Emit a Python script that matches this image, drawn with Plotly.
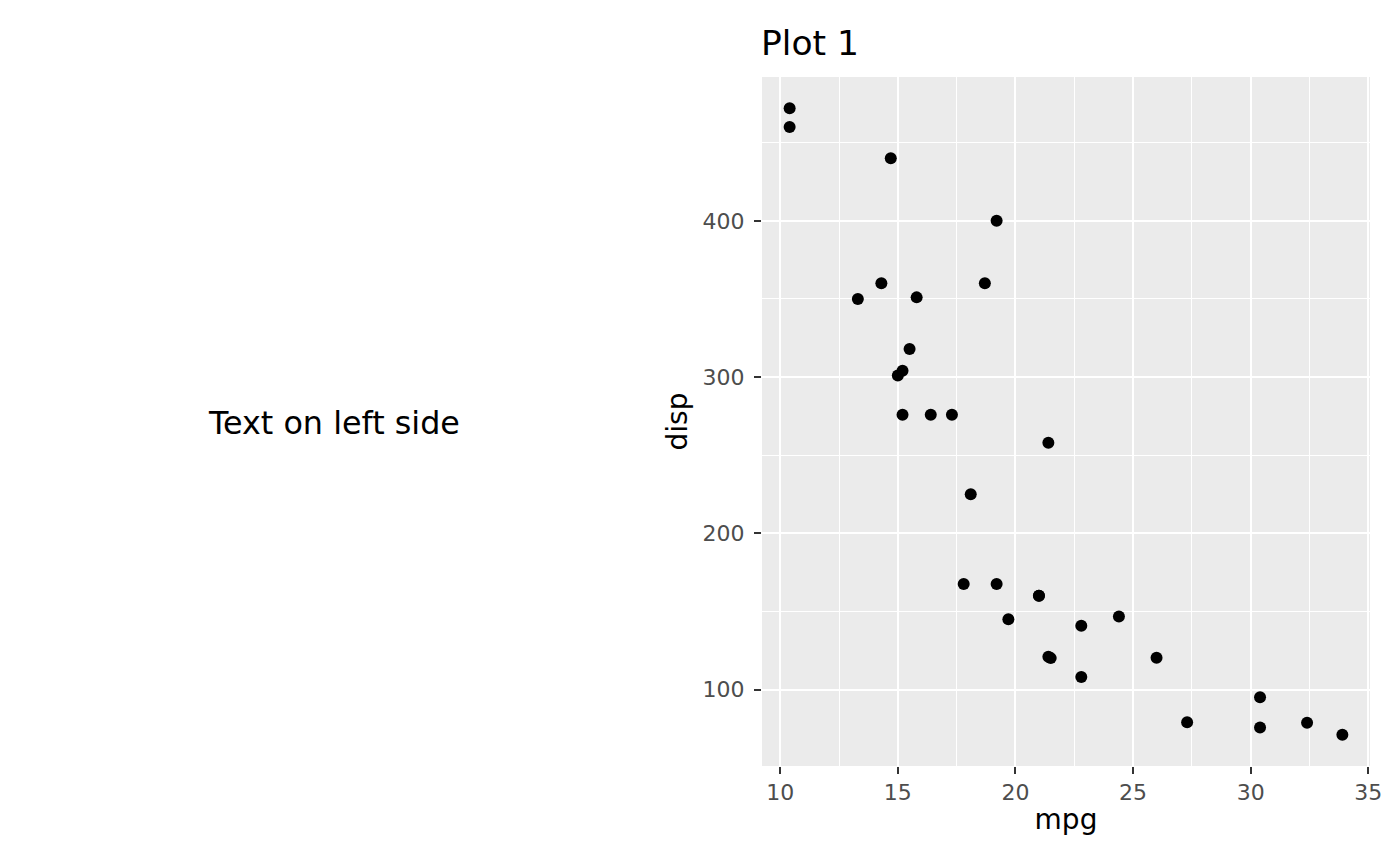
import plotly.graph_objects as go

# mtcars: mpg vs disp
mpg = [21.0, 21.0, 22.8, 21.4, 18.7, 18.1, 14.3, 24.4, 22.8, 19.2, 17.8, 16.4, 17.3, 15.2, 10.4, 10.4,
       14.7, 32.4, 30.4, 33.9, 21.5, 15.5, 15.2, 13.3, 19.2, 27.3, 26.0, 30.4, 15.8, 19.7, 15.0, 21.4]
disp = [160, 160, 108, 258, 360, 225, 360, 146.7, 140.8, 167.6, 167.6, 275.8, 275.8, 275.8, 472, 460,
        440, 78.7, 75.7, 71.1, 120.1, 318, 304, 350, 400, 79, 120.3, 95.1, 351, 145, 301, 121]
x_ticks = [10, 15, 20, 25, 30, 35]
y_ticks = [100, 200, 300, 400]

W, H = 1400, 865
font = 'DejaVu Sans'
tick_font = {'size': 22, 'color': '#4D4D4D', 'family': font}

# ggplot-style 5% expansion
xr = max(mpg) - min(mpg)
yr = max(disp) - min(disp)
x_range = [min(mpg) - 0.05 * xr, max(mpg) + 0.05 * xr]
y_range = [min(disp) - 0.05 * yr, max(disp) + 0.05 * yr]

fig = go.Figure()
fig.add_trace(go.Scatter(
    x=mpg, y=disp, mode='markers',
    marker={'color': 'black', 'size': 12},
    showlegend=False
))

x0, x1 = 762 / W, 1370 / W
y0, y1 = 1 - 766 / H, 1 - 77 / H

fig.update_layout(
    width=W, height=H,
    paper_bgcolor='white', plot_bgcolor='#EBEBEB',
    margin={'l': 0, 'r': 0, 't': 0, 'b': 0},
    font={'family': font, 'color': 'black'},
    title={'text': 'Plot 1', 'x': 761 / W, 'xanchor': 'left', 'xref': 'paper',
           'y': 1 - 43 / H, 'yanchor': 'middle', 'yref': 'container',
           'font': {'size': 34.5, 'color': 'black', 'family': font}},
    annotations=[{
        'text': 'Text on left side', 'x': 334 / W, 'y': 1 - 423 / H,
        'xref': 'paper', 'yref': 'paper', 'showarrow': False,
        'xanchor': 'center', 'yanchor': 'middle',
        'font': {'size': 31.8, 'color': 'black', 'family': font},
    }],
)

# grey panel, white grid, dark grey ticks (ggplot2 look)
fig.update_xaxes(
    domain=[x0, x1], range=x_range, tickvals=x_ticks,
    showgrid=True, gridcolor='white', gridwidth=2,
    zeroline=False, showline=False, automargin=False,
    ticks='outside', ticklen=7, tickwidth=2, tickcolor='#333333',
    tickfont=tick_font, ticklabelstandoff=0,
    minor={'showgrid': True, 'gridcolor': 'white', 'gridwidth': 1, 'ticks': '', 'dtick': 2.5, 'tick0': 7.5},
    title={'text': 'mpg', 'font': {'size': 28, 'color': 'black', 'family': font}, 'standoff': 4},
)
fig.update_yaxes(
    domain=[y0, y1], range=y_range, tickvals=y_ticks,
    showgrid=True, gridcolor='white', gridwidth=2,
    zeroline=False, showline=False, automargin=False,
    ticks='outside', ticklen=7, tickwidth=2, tickcolor='#333333',
    tickfont=tick_font, ticklabelstandoff=5,
    minor={'showgrid': True, 'gridcolor': 'white', 'gridwidth': 1, 'ticks': '', 'dtick': 50, 'tick0': 50},
    title={'text': 'disp', 'font': {'size': 28, 'color': 'black', 'family': font}, 'standoff': 6},
)

fig.write_html('out.html', config={'displayModeBar': False},
               post_script="document.body.style.margin='0';")
